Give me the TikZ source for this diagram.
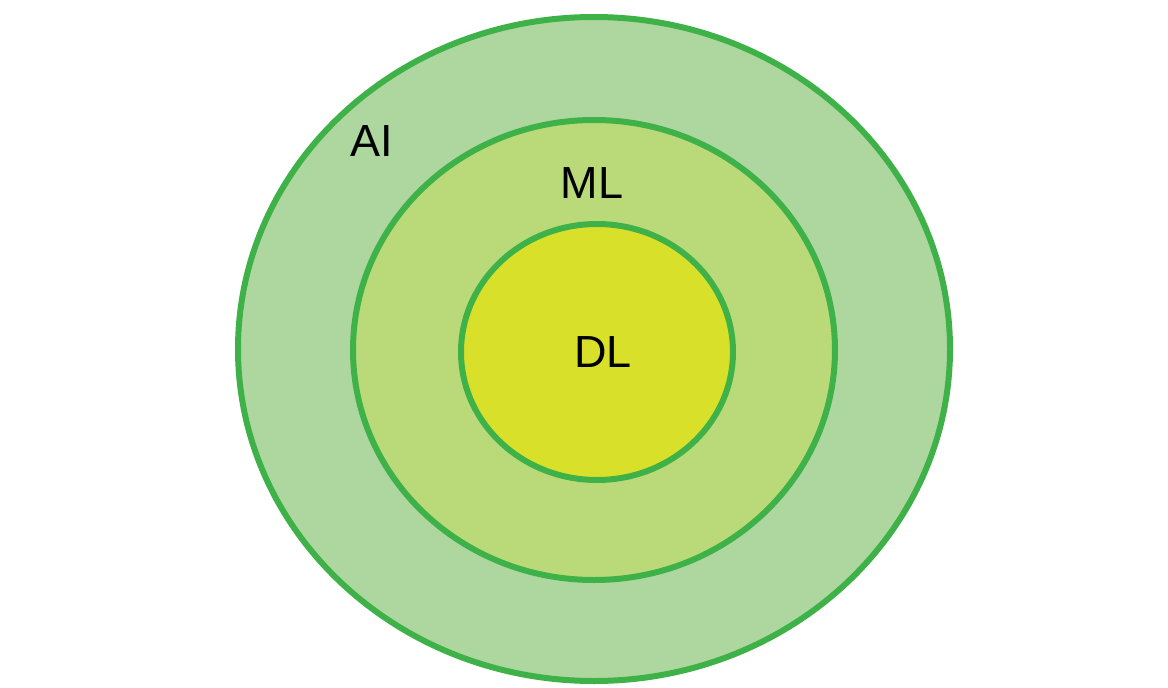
\documentclass[tikz,border=0pt]{standalone}
\usepackage{fontspec}
\setmainfont{Liberation Sans}
\usetikzlibrary{shapes.geometric,positioning}

\definecolor{ringline}{RGB}{62,178,72}
\definecolor{aifill}{RGB}{174,215,160}
\definecolor{mlfill}{RGB}{186,218,122}
\definecolor{dlfill}{RGB}{217,224,42}

\begin{document}
\begin{tikzpicture}[
    x=1pt, y=-1pt,
    ring/.style={ellipse, draw=ringline, line width=6pt, inner sep=0pt},
    tag/.style={font=\fontsize{45}{50}\selectfont, text=black, inner sep=0pt}
]
    \useasboundingbox (0,0) rectangle (1168,688);

    % Rings
    \node [ring, fill=aifill, minimum width=712pt, minimum height=664pt] (ai) at (594,349) {};
    \node [ring, fill=mlfill, minimum width=482pt, minimum height=460pt] (ml) at (594,350) {};
    \node [ring, fill=dlfill, minimum width=272pt, minimum height=256pt] (dl) at (597,352) {};

    % Labels
    \node [tag] (ailabel) at (372,141) {AI};
    \node [tag] (mllabel) at (592,183) {ML};
    \node [tag] (dllabel) at (603,352) {DL};

\end{tikzpicture}
\end{document}
